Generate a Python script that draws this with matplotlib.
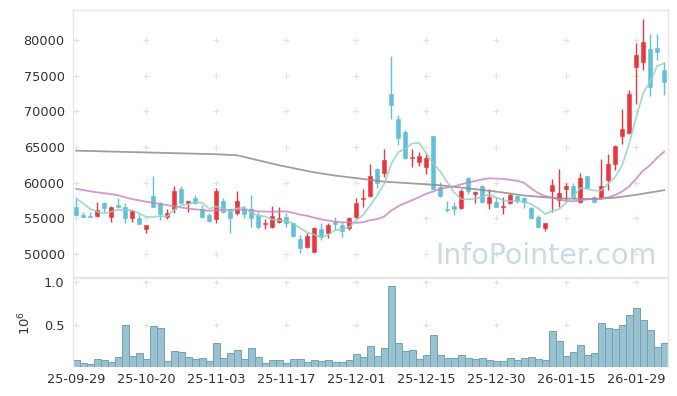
import matplotlib
matplotlib.use('Agg')
import matplotlib.pyplot as plt
import numpy as np

# ---- data ----
tick_labels = ['25-09-29', '25-10-20', '25-11-03', '25-11-17', '25-12-01',
               '25-12-15', '25-12-30', '26-01-15', '26-01-29']
tick_pos = [0, 10, 20, 30, 40, 50, 60, 70, 80]

opens = [56550, 55500, 55300, 55300, 57100, 55250, 56850, 56650, 55100, 55000,
         53500, 58200, 57100, 55250, 56300, 59100, 57150, 57800, 56350, 55450,
         54950, 57450, 56250, 55800, 56400, 56250, 55450, 54150, 53850, 54500,
         55250, 54300, 52050, 51000, 50300, 53450, 52900, 54550, 54050, 53600,
         55150, 57650, 58200, 61950, 61400, 72450, 68950, 67150, 63400, 62950,
         62250, 66550, 59450, 56300, 56750, 56500, 60600, 58400, 59550, 57100,
         57350, 56650, 57100, 58150, 57800, 56400, 55250, 53600, 58900, 57600,
         59100, 59550, 57250, 60950, 58050, 57800, 60400, 62600, 66600, 66950,
         76300, 77000, 78800, 78900, 75850]
highs = [57800, 55950, 55900, 57250, 57350, 56750, 57800, 57200, 56100, 55600,
         54100, 60950, 57350, 56350, 59550, 59550, 57500, 58300, 56800, 55800,
         59300, 57800, 56300, 58850, 56750, 58300, 55950, 54850, 56750, 56550,
         55700, 54350, 52650, 52900, 53850, 54300, 54300, 55150, 54550, 55150,
         57800, 59100, 62650, 62100, 64700, 77800, 69500, 67400, 64700, 64350,
         64050, 66600, 60150, 57450, 57350, 59100, 60850, 58800, 59700, 59100,
         58050, 58000, 58600, 58300, 58050, 56650, 55400, 54400, 60500, 61900,
         60000, 60000, 61350, 61000, 58100, 63300, 64050, 65300, 70350, 73000,
         79600, 83000, 80900, 80900, 77000]
lows = [55350, 55200, 55150, 55200, 55950, 54500, 56400, 54400, 54550, 54200,
        52900, 56600, 54800, 54900, 55700, 57100, 55850, 56950, 55000, 54500,
        54300, 55700, 52900, 55450, 55000, 53850, 53450, 53500, 53600, 54400,
        53850, 52400, 50100, 50900, 50250, 51950, 52200, 53350, 52400, 53350,
        55000, 56650, 58050, 59200, 60750, 68900, 65300, 63300, 62250, 62350,
        61200, 59050, 58050, 55950, 55450, 56300, 58400, 57100, 57100, 56300,
        56600, 55600, 57000, 57100, 56400, 54900, 53600, 53150, 55950, 56650,
        57500, 57650, 57100, 59150, 57200, 57650, 59000, 61800, 65450, 66800,
        71000, 75850, 72200, 77250, 72300]
closes = [55400, 55250, 55200, 56150, 56400, 56650, 56650, 55000, 56050, 54200,
          54050, 56650, 55600, 55800, 58850, 57200, 57450, 57100, 55250, 54650,
          58850, 55950, 55000, 57450, 55600, 55000, 53850, 54400, 55300, 55100,
          54300, 52450, 50800, 52500, 53600, 52350, 54050, 54200, 53150, 55000,
          57200, 57850, 60950, 60000, 63200, 70900, 66250, 63500, 63650, 63750,
          63450, 59100, 58150, 56100, 56300, 58850, 58850, 58750, 57350, 58050,
          56650, 56750, 58300, 57500, 57350, 55000, 53850, 54300, 59700, 58600,
          59550, 57800, 60600, 59200, 57350, 59550, 62650, 65150, 67550, 72450,
          77950, 79700, 73500, 78400, 74200]
volume = [82000, 47000, 35000, 94000, 82000, 62000, 117000, 490000, 129000, 164000,
          94000, 480000, 457000, 74000, 190000, 176000, 117000, 98000, 105000, 74000,
          280000, 105000, 164000, 200000, 94000, 223000, 117000, 47000, 82000, 82000,
          47000, 94000, 94000, 62000, 82000, 74000, 82000, 62000, 62000, 86000,
          152000, 117000, 246000, 129000, 223000, 953000, 281000, 188000, 199000, 94000,
          141000, 375000, 141000, 105000, 105000, 141000, 105000, 94000, 105000, 82000,
          70000, 70000, 105000, 82000, 105000, 117000, 94000, 82000, 422000, 305000,
          129000, 176000, 258000, 141000, 164000, 516000, 457000, 445000, 492000, 609000,
          691000, 551000, 434000, 234000, 281000]
ma5 = [57800, 57100, 56300, 55950, 55680, 55930, 56210, 56170, 56150, 55710,
       55190, 55190, 55310, 55260, 56190, 56820, 56980, 57280, 57170, 56330,
       56660, 56360, 55940, 56380, 56570, 55800, 55380, 55260, 54830, 54730,
       54590, 54310, 53590, 53030, 52730, 52340, 52660, 53340, 53470, 53750,
       54720, 55480, 56830, 58200, 59840, 62580, 64260, 64770, 65500, 65610,
       64120, 62690, 61620, 60110, 58620, 57700, 57650, 57770, 58020, 58370,
       57930, 57510, 57420, 57450, 57310, 56980, 56400, 55600, 56040, 56290,
       57200, 57990, 59250, 59150, 58900, 58900, 59870, 60780, 62450, 65470,
       69150, 72560, 74230, 76400, 76750]
ma20 = [59150, 58980, 58800, 58650, 58520, 58400, 58230, 57950, 57700, 57520,
        57340, 57180, 57020, 56850, 56680, 56520, 56380, 56250, 56180, 56050,
        56150, 56185, 56175, 56240, 56200, 56120, 55980, 55950, 55910, 55955,
        55970, 55760, 55520, 55350, 55090, 54850, 54680, 54530, 54430, 54445,
        54360, 54460, 54755, 54880, 55260, 56060, 56680, 57130, 57550, 57980,
        58440, 58770, 59140, 59320, 59455, 59780, 60020, 60250, 60460, 60610,
        60580, 60530, 60395, 60270, 59980, 59180, 58560, 58100, 57905, 57650,
        57450, 57390, 57510, 57665, 57720, 57750, 57940, 58260, 58770, 59490,
        60558, 61705, 62465, 63510, 64352]
ma120_idx = [0, 10, 20, 23, 26, 29, 32, 34, 37, 40, 44, 48, 52, 56, 60, 64, 69, 74, 77, 80, 84]
ma120 = [64500, 64250, 64000, 63850, 63150, 62450, 61850, 61450, 61000, 60650,
         60150, 59900, 59650, 59200, 58750, 58200, 57800, 57700, 57900, 58300, 58950]

# ---- styling ----
UP = '#ea353c'
DOWN = '#62bfd7'
GRIDC = '#e2e2e2'
SPINE = '#e6e6e6'
TXT = '#333333'

plt.rcParams['font.family'] = ['DejaVu Sans']

W, H = 677, 396
fig = plt.figure(figsize=(W / 100, H / 100), dpi=100)
L, R = 73, 668
ax = fig.add_axes([L / W, (H - 277) / H, (R - L) / W, (277 - 10) / H])
axv = fig.add_axes([L / W, (H - 367.3) / H, (R - L) / W, (367.3 - 278) / H])

x = np.arange(len(closes))
o = np.array(opens, float)
c = np.array(closes, float)
hi = np.array(highs, float)
lo = np.array(lows, float)
up = c >= o
colors = np.where(up, UP, DOWN)

xlim = (-0.45, 84.55)

# grid crosses
ytick_main = [50000, 55000, 60000, 65000, 70000, 75000, 80000]
gx, gy = np.meshgrid(tick_pos, ytick_main)
ax.plot(gx.ravel(), gy.ravel(), ls='none', marker='+', ms=5, mew=0.8,
        color=GRIDC, zorder=0)

# candles
ax.vlines(x, lo, hi, colors=colors, lw=1.0, zorder=2)
body_h = np.maximum(np.abs(c - o), 60)
ax.bar(x, body_h, bottom=np.minimum(o, c), width=0.66, color=colors,
       edgecolor=colors, linewidth=0.4, zorder=3)

# moving averages
ax.plot(ma120_idx, ma120, color='#8e8e8e', lw=1.3, alpha=0.85, zorder=4)
ax.plot(x, ma20, color='#c980c2', lw=1.3, alpha=0.8, zorder=4)
ax.plot(x, ma5, color='#8ed2c6', lw=1.2, alpha=0.85, zorder=4)

ax.set_xlim(*xlim)
ax.set_ylim(46760, 84250)
ax.set_yticks(ytick_main)
ax.set_yticklabels([str(v) for v in ytick_main])
ax.set_xticks([])
ax.tick_params(axis='y', length=0, pad=6, labelsize=9.3, labelcolor=TXT)
for s in ax.spines.values():
    s.set_color(SPINE)
    s.set_linewidth(1.0)

ax.text(0.795, 0.079, 'InfoPointer.com', transform=ax.transAxes,
        ha='center', va='center', fontsize=20.5, color='#c9dce6', zorder=1)

# volume
vol = np.array(volume, float) / 1e6
vt = [0.5, 1.0]
gx2, gy2 = np.meshgrid(tick_pos, vt)
axv.plot(gx2.ravel(), gy2.ravel(), ls='none', marker='+', ms=5, mew=0.8,
         color=GRIDC, zorder=0)
axv.bar(x, vol, width=1.0, color='#9ac1d0', edgecolor='#72a3b9',
        linewidth=0.7, zorder=2)
axv.set_xlim(*xlim)
axv.set_ylim(0, 1.046)
axv.set_yticks(vt)
axv.set_yticklabels(['0.5', '1.0'])
axv.set_xticks(tick_pos)
axv.set_xticklabels(tick_labels)
axv.tick_params(length=0, pad=6, labelsize=9.3, labelcolor=TXT)
axv.tick_params(axis='x', pad=4)
axv.set_ylabel('$10^6$', fontsize=9.5, color=TXT, labelpad=8)
for s in axv.spines.values():
    s.set_color(SPINE)
    s.set_linewidth(1.0)
axv.spines['bottom'].set_visible(False)

fig.savefig('out.png', dpi=100)
